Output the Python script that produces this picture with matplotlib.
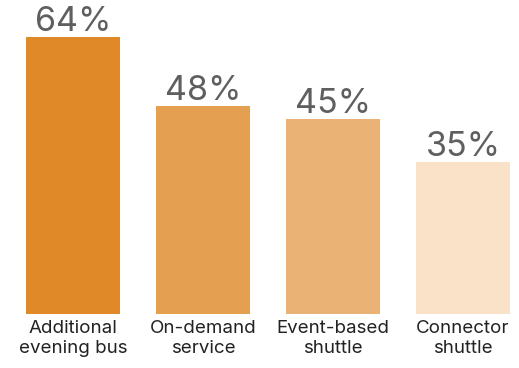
import matplotlib.pyplot as plt

categories = ['Additional\nevening bus', 'On-demand\nservice', 'Event-based\nshuttle', 'Connector\nshuttle']
values = [64, 48, 45, 35]
colors = ['#E08928', '#E59F50', '#EBB276', '#F9E2C8']

plt.rcParams['font.family'] = ['Inter', 'DejaVu Sans']

fig = plt.figure(figsize=(5.19, 3.68), dpi=100)
ax = fig.add_axes([26 / 519, 54 / 368, 484 / 519, 314 / 368])

x = range(len(values))
bars = ax.bar(x, values, width=0.723, color=colors)
ax.set_xlim(-0.3615, 3.3615)
ax.set_ylim(0, 72.5)

for b, v in zip(bars, values):
    ax.text(b.get_x() + b.get_width() / 2, v - 0.25, f'{v}%', ha='center', va='bottom',
            fontsize=24.5, color='#5f5f5f')

ax.set_xticks(list(x))
ax.set_xticklabels(categories, fontsize=13.5, color='#222222', linespacing=1.3)
ax.tick_params(axis='x', length=0, pad=4)
ax.set_yticks([])
for s in ax.spines.values():
    s.set_visible(False)

fig.savefig('out.png', dpi=100)
